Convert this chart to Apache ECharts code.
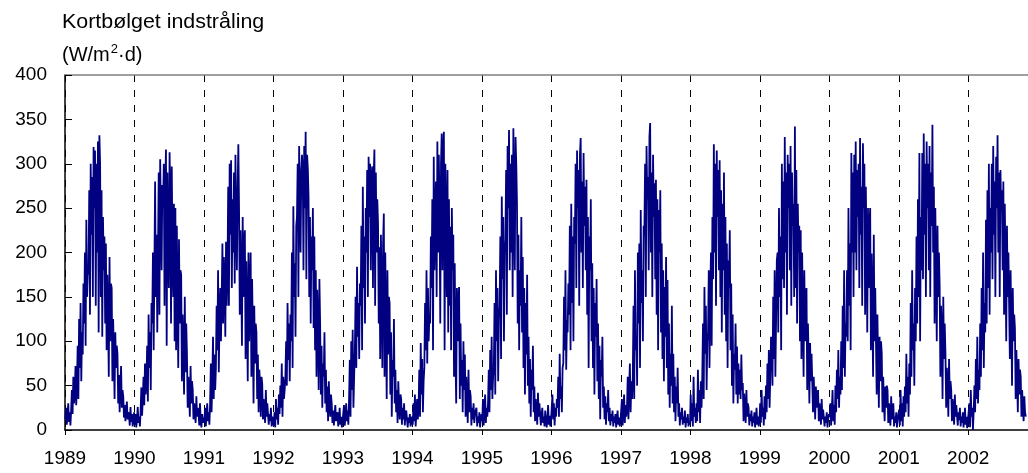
<!DOCTYPE html>
<html>
<head>
<meta charset="utf-8">
<script src="https://cdn.jsdelivr.net/npm/echarts@6/dist/echarts.min.js"></script>
<style>
  html, body { margin: 0; padding: 0; background: #fff; }
  #chart { width: 1028px; height: 473px; }
</style>
</head>
<body>
<div id="chart"></div>
<script>
// Daily short-wave irradiance, sampled 8 times per month (W/m2·d)
const yAxisTicks = [0, 50, 100, 150, 200, 250, 300, 350, 400];
const yearLabels = [1989, 1990, 1991, 1992, 1993, 1994, 1995, 1996, 1997, 1998, 1999, 2000, 2001, 2002];

const r1989 = [
  12, 25, 6, 18, 30, 9, 20, 5,
  22, 45, 18, 60, 30, 40, 72, 28,
  50, 95, 35, 125, 70, 143, 55, 110,
  85, 165, 120, 200, 95, 237, 150, 180,
  175, 270, 130, 300, 220, 285, 150, 319,
  250, 315, 140, 300, 200, 325, 110, 332,
  300, 150, 270, 105, 240, 180, 218, 120,
  210, 90, 175, 130, 60, 195, 100, 165,
  160, 55, 125, 85, 35, 110, 70, 95,
  86, 30, 62, 20, 50, 72, 25, 45,
  38, 14, 28, 10, 22, 32, 12, 20,
  15, 5, 26, 9, 18, 4, 12, 20
];
const r1990 = [
  6, 18, 3, 12, 26, 8, 15, 4,
  22, 48, 16, 35, 60, 28, 75, 40,
  55, 95, 32, 130, 70, 110, 45, 143,
  120, 200, 90, 180, 280, 150, 220, 110,
  200, 290, 130, 305, 240, 180, 276, 250,
  300, 140, 270, 316, 95, 290, 210, 160,
  313, 260, 120, 297, 200, 150, 255, 100,
  250, 90, 230, 140, 70, 215, 120, 180,
  175, 55, 130, 90, 40, 150, 65, 120,
  86, 25, 60, 40, 15, 72, 30, 55,
  45, 12, 30, 20, 8, 38, 15, 25,
  20, 5, 30, 10, 3, 18, 8, 14
];
const r1991 = [
  8, 25, 4, 15, 30, 10, 20, 6,
  30, 75, 20, 55, 105, 35, 85, 45,
  70, 140, 90, 180, 65, 125, 160, 100,
  150, 210, 120, 195, 170, 105, 212, 140,
  180, 274, 140, 300, 220, 304, 160, 260,
  200, 290, 165, 310, 240, 180, 270, 322,
  248, 130, 225, 170, 95, 240, 150, 210,
  225, 80, 190, 130, 55, 200, 100, 160,
  200, 60, 170, 110, 30, 140, 75, 120,
  110, 35, 85, 20, 68, 50, 15, 60,
  52, 12, 35, 20, 8, 45, 15, 30,
  30, 6, 18, 10, 25, 4, 15, 8
];
const r1992 = [
  5, 20, 3, 35, 12, 25, 6, 40,
  18, 50, 25, 75, 15, 60, 35, 45,
  60, 100, 50, 143, 79, 120, 55, 130,
  100, 200, 70, 252, 150, 188, 105, 230,
  240, 300, 150, 320, 260, 200, 293, 310,
  290, 180, 320, 250, 336, 170, 310, 295,
  263, 150, 240, 120, 218, 180, 250, 115,
  218, 90, 180, 60, 158, 120, 45, 170,
  120, 40, 95, 25, 75, 60, 110, 30,
  68, 20, 49, 10, 55, 30, 15, 40,
  30, 8, 22, 5, 18, 28, 10, 15,
  20, 4, 12, 25, 6, 15, 3, 10
];
const r1993 = [
  8, 28, 5, 15, 30, 10, 22, 6,
  35, 79, 15, 100, 45, 113, 25, 60,
  90, 150, 70, 184, 105, 143, 80, 165,
  140, 230, 90, 274, 160, 218, 120, 250,
  200, 293, 150, 308, 240, 300, 180, 285,
  297, 160, 285, 316, 140, 290, 200, 260,
  233, 120, 206, 80, 220, 150, 70, 210,
  244, 60, 200, 120, 35, 180, 85, 150,
  143, 40, 110, 15, 79, 60, 125, 30,
  68, 20, 45, 8, 55, 30, 12, 40,
  35, 6, 25, 12, 30, 5, 18, 22,
  20, 3, 14, 8, 18, 4, 10, 15
];
const r1994 = [
  6, 30, 10, 40, 4, 20, 35, 12,
  25, 68, 15, 98, 40, 80, 20, 55,
  70, 143, 90, 180, 75, 160, 100, 130,
  120, 218, 160, 260, 90, 308, 180, 240,
  280, 150, 325, 200, 310, 250, 120, 300,
  334, 180, 315, 336, 90, 300, 230, 150,
  293, 110, 260, 140, 229, 90, 250, 180,
  220, 60, 188, 85, 30, 160, 100, 143,
  161, 35, 120, 50, 79, 20, 100, 45,
  85, 15, 60, 30, 8, 68, 20, 45,
  38, 5, 25, 12, 30, 8, 18, 22,
  25, 4, 15, 8, 20, 3, 12, 18
];
const r1995 = [
  10, 35, 5, 20, 40, 8, 25, 15,
  30, 68, 20, 90, 45, 105, 35, 60,
  70, 143, 40, 180, 100, 160, 55, 125,
  140, 218, 80, 263, 170, 240, 100, 200,
  215, 293, 130, 320, 250, 338, 180, 300,
  200, 310, 150, 340, 260, 180, 330, 300,
  255, 120, 220, 90, 180, 140, 240, 110,
  195, 70, 160, 40, 143, 85, 175, 50,
  105, 30, 80, 15, 68, 45, 95, 20,
  49, 10, 35, 20, 6, 42, 15, 30,
  30, 5, 18, 25, 8, 15, 4, 22,
  20, 3, 12, 28, 6, 16, 4, 10
];
const r1996 = [
  8, 40, 12, 30, 5, 25, 15, 35,
  25, 60, 15, 86, 35, 49, 20, 70,
  75, 150, 90, 180, 68, 124, 110, 165,
  130, 230, 90, 255, 143, 218, 100, 240,
  210, 300, 160, 315, 250, 293, 140, 310,
  329, 200, 280, 160, 312, 230, 274, 180,
  282, 130, 240, 70, 218, 180, 260, 100,
  188, 70, 160, 40, 143, 105, 170, 55,
  120, 35, 95, 12, 79, 60, 105, 25,
  49, 12, 38, 6, 30, 20, 45, 10,
  25, 5, 18, 10, 22, 4, 15, 8,
  18, 3, 12, 22, 6, 14, 4, 10
];
const r1997 = [
  10, 35, 5, 20, 40, 8, 28, 15,
  25, 60, 12, 49, 75, 20, 55, 35,
  60, 140, 35, 180, 90, 105, 50, 200,
  120, 210, 70, 248, 143, 180, 100, 230,
  220, 300, 150, 320, 260, 285, 180, 330,
  346, 200, 290, 150, 310, 240, 278, 170,
  282, 130, 260, 90, 248, 200, 270, 110,
  210, 80, 180, 55, 161, 105, 195, 70,
  169, 40, 120, 25, 86, 50, 140, 30,
  86, 20, 60, 10, 49, 30, 70, 15,
  30, 5, 20, 12, 25, 6, 15, 8,
  22, 3, 14, 8, 18, 4, 10, 6
];
const r1998 = [
  40, 10, 30, 4, 60, 15, 25, 8,
  30, 10, 68, 20, 45, 8, 55, 25,
  60, 120, 35, 161, 86, 140, 45, 100,
  110, 180, 70, 150, 200, 95, 240, 170,
  322, 200, 300, 140, 315, 240, 293, 180,
  304, 150, 270, 110, 255, 180, 290, 130,
  240, 100, 210, 70, 191, 160, 225, 90,
  165, 50, 130, 30, 86, 68, 120, 40,
  94, 30, 75, 40, 68, 35, 85, 45,
  53, 10, 41, 20, 8, 45, 15, 30,
  25, 5, 18, 10, 22, 4, 15, 8,
  20, 3, 12, 25, 6, 15, 4, 10
];
const r1999 = [
  30, 8, 45, 15, 25, 5, 38, 12,
  50, 20, 75, 35, 90, 25, 60, 105,
  100, 50, 150, 80, 180, 60, 124, 191,
  200, 110, 250, 150, 218, 90, 300, 170,
  280, 160, 330, 200, 290, 130, 310, 250,
  300, 180, 320, 140, 290, 230, 255, 150,
  342, 160, 293, 120, 255, 200, 230, 100,
  225, 80, 200, 130, 60, 180, 100, 150,
  160, 45, 120, 80, 30, 98, 55, 86,
  86, 20, 60, 35, 12, 49, 25, 40,
  45, 10, 30, 18, 6, 35, 12, 23,
  25, 4, 15, 8, 20, 3, 12, 18
];
const r2000 = [
  15, 30, 5, 22, 45, 10, 28, 6,
  50, 20, 68, 35, 90, 25, 60, 40,
  100, 45, 140, 70, 180, 60, 120, 105,
  180, 100, 250, 140, 210, 90, 312, 200,
  290, 150, 310, 200, 325, 180, 293, 240,
  300, 160, 329, 220, 274, 140, 323, 250,
  300, 130, 274, 200, 110, 250, 160, 230,
  250, 90, 199, 140, 60, 220, 100, 160,
  161, 40, 130, 75, 25, 105, 55, 100,
  86, 20, 60, 30, 10, 49, 25, 50,
  45, 8, 30, 15, 5, 38, 12, 20,
  30, 4, 15, 8, 20, 3, 12, 18
];
const r2001 = [
  23, 5, 45, 10, 30, 4, 38, 15,
  49, 20, 86, 30, 60, 15, 75, 40,
  143, 60, 180, 90, 120, 50, 160, 100,
  218, 120, 260, 150, 312, 100, 240, 180,
  312, 170, 334, 220, 300, 150, 325, 250,
  300, 180, 320, 150, 290, 230, 344, 200,
  274, 120, 250, 180, 100, 230, 150, 200,
  161, 60, 140, 105, 35, 150, 80, 120,
  86, 25, 70, 49, 15, 80, 35, 55,
  45, 10, 35, 20, 6, 40, 15, 28,
  30, 5, 20, 11, 25, 4, 15, 8,
  20, 3, 12, 25, 6, 15, 2, 10
];
// 2002 runs to the end of October
const r2002 = [
  11, 30, 3, 45, 15, 25, 0, 20,
  50, 20, 80, 35, 105, 30, 68, 45,
  120, 60, 160, 90, 200, 70, 143, 110,
  237, 120, 270, 160, 300, 130, 250, 200,
  300, 170, 320, 220, 280, 150, 308, 250,
  332, 200, 290, 150, 293, 248, 270, 180,
  280, 130, 255, 180, 100, 230, 150, 200,
  200, 80, 180, 120, 50, 160, 100, 130,
  115, 35, 90, 60, 20, 80, 40, 68,
  60, 15, 45, 25, 10, 38, 20, 15
];

const yearlyValues = [r1989, r1990, r1991, r1992, r1993, r1994, r1995,
                      r1996, r1997, r1998, r1999, r2000, r2001, r2002];
const SAMPLES_PER_YEAR = 96;

// Place each sample at its fractional year position
const points = [];
yearlyValues.forEach((vals, k) => {
  const y0 = yearLabels[k];
  vals.forEach((v, i) => points.push([y0 + (i + 0.5) / SAMPLES_PER_YEAR, v]));
});

const FONT = "'Liberation Sans', Arial, sans-serif";
const xMin = yearLabels[0];
const xMax = 2002.86;

// Unit line "(W/m²·d)" built from three pieces so the exponent sits high
const measure = document.createElement('canvas').getContext('2d');
measure.font = '20px ' + FONT;
const unitA = '(W/m', unitSup = '2', unitB = '·d)';
const wA = measure.measureText(unitA).width;
measure.font = '13px ' + FONT;
const wSup = measure.measureText(unitSup).width;
const unitX = 62;

const chart = echarts.init(document.getElementById('chart'), null, { renderer: 'canvas' });
chart.setOption({
  animation: false,
  backgroundColor: '#ffffff',
  grid: { left: 65, right: 0, top: 75, bottom: 43, containLabel: false },
  graphic: [
    { type: 'text', x: 62, y: 22, scaleX: 1.07,
      style: { text: 'Kortbølget indstråling', font: '20px ' + FONT, fill: '#000', verticalAlign: 'middle' } },
    { type: 'text', x: unitX, y: 55,
      style: { text: unitA, font: '20px ' + FONT, fill: '#000', verticalAlign: 'middle' } },
    { type: 'text', x: unitX + wA + 1, y: 49,
      style: { text: unitSup, font: '13px ' + FONT, fill: '#000', verticalAlign: 'middle' } },
    { type: 'text', x: unitX + wA + wSup + 1, y: 55,
      style: { text: unitB, font: '20px ' + FONT, fill: '#000', verticalAlign: 'middle' } }
  ],
  xAxis: [
    {
      type: 'value', min: xMin, max: xMax, interval: 1, position: 'bottom',
      axisLine: { show: true, onZero: false, lineStyle: { color: '#000', width: 1.5 } },
      axisTick: { show: true, inside: false, length: 5, lineStyle: { color: '#000' } },
      axisLabel: {
        show: true, margin: 19, color: '#000', fontFamily: FONT, fontSize: 19,
        showMaxLabel: false,
        formatter: v => (Number.isInteger(v) && yearLabels.includes(v)) ? String(v) : ''
      },
      splitLine: { show: true, lineStyle: { color: '#000', width: 1, type: [7, 8] } }
    },
    {
      type: 'value', min: xMin, max: xMax, position: 'top',
      axisLine: { show: true, onZero: false, lineStyle: { color: '#808080', width: 1.5 } },
      axisTick: { show: false }, axisLabel: { show: false }, splitLine: { show: false }
    }
  ],
  yAxis: {
    type: 'value', min: yAxisTicks[0], max: yAxisTicks[yAxisTicks.length - 1], interval: 50,
    axisLine: { show: true, lineStyle: { color: '#000', width: 1.5 } },
    axisTick: { show: true, inside: true, length: 7, lineStyle: { color: '#000' } },
    axisLabel: { margin: 18, color: '#000', fontFamily: FONT, fontSize: 19 },
    splitLine: { show: false }
  },
  series: [{
    type: 'line',
    xAxisIndex: 0,
    data: points,
    showSymbol: false,
    sampling: null,
    lineStyle: { color: '#000080', width: 1.8 },
    z: 1
  }]
});
</script>
</body>
</html>
